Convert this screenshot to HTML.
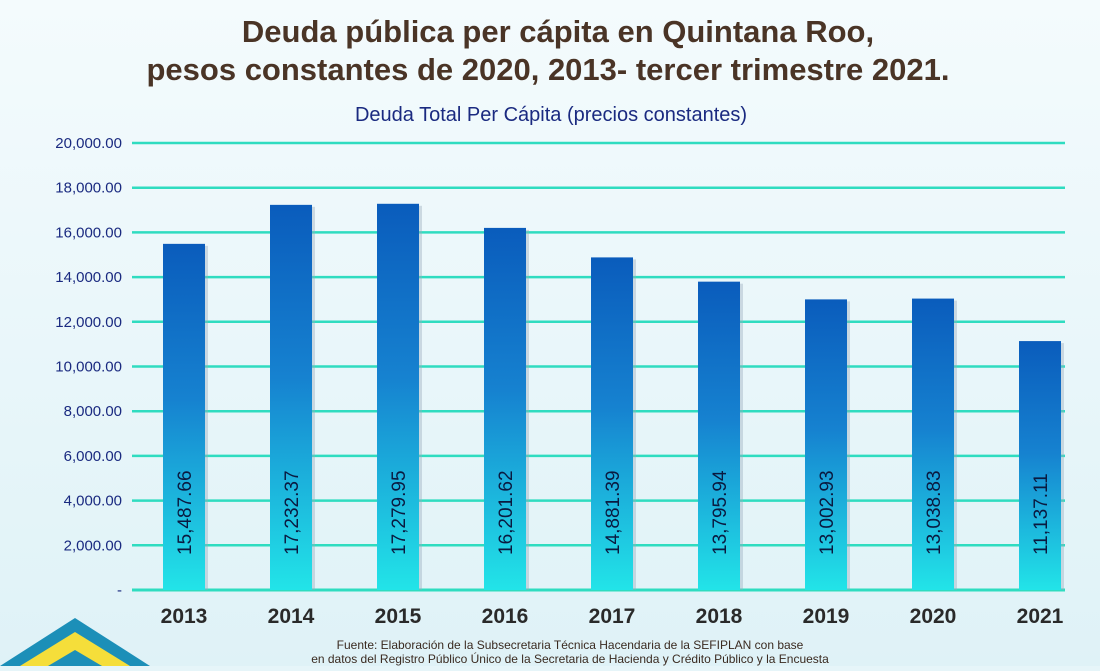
<!DOCTYPE html>
<html><head><meta charset="utf-8">
<style>
body{margin:0;width:1100px;height:666px;overflow:hidden;background:#e6f5f9;font-family:"Liberation Sans",sans-serif;}
</style></head>
<body>
<svg id="chart" width="1100" height="666" xmlns="http://www.w3.org/2000/svg">
<defs>
<linearGradient id="bg" x1="0" y1="0" x2="0" y2="1"><stop offset="0" stop-color="#f4fbfd"/><stop offset="1" stop-color="#dff2f7"/></linearGradient>
<linearGradient id="barg" x1="0" y1="0" x2="0" y2="1"><stop offset="0" stop-color="#0a5cbc"/><stop offset="0.45" stop-color="#1682d0"/><stop offset="1" stop-color="#22e4e8"/></linearGradient>
</defs>
<rect width="1100" height="666" fill="url(#bg)"/>
<polygon points="0,666 75,618 150,666" fill="#1c8fb8"/>
<polygon points="20,666 75,632 130,666" fill="#f5de3a"/>
<polygon points="48,666 75,650 102,666" fill="#1c8fb8"/>
<text x="558" y="42" text-anchor="middle" font-size="31" font-weight="bold" fill="#4a3426">Deuda pública per cápita en Quintana Roo,</text>
<text x="548" y="80" text-anchor="middle" font-size="31" font-weight="bold" fill="#4a3426">pesos constantes de 2020, 2013- tercer trimestre 2021.</text>
<text x="551" y="121" text-anchor="middle" font-size="20" fill="#1a2a80">Deuda Total Per Cápita (precios constantes)</text>
<g id="grid"></g><g id="bars"></g>
<text x="570" y="649" text-anchor="middle" font-size="12" fill="#3a2a20">Fuente: Elaboración de la Subsecretaria Técnica Hacendaria de la SEFIPLAN con base</text>
<text x="570" y="663" text-anchor="middle" font-size="12" fill="#3a2a20">en datos del Registro Público Único de la Secretaria de Hacienda y Crédito Público y la Encuesta</text>
</svg>
<script>
const categories=["2013","2014","2015","2016","2017","2018","2019","2020","2021"];
const values=[15487.66,17232.37,17279.95,16201.62,14881.39,13795.94,13002.93,13038.83,11137.11];
const valueLabels=["15,487.66","17,232.37","17,279.95","16,201.62","14,881.39","13,795.94","13,002.93","13,038.83","11,137.11"];
const ticks=[0,2000,4000,6000,8000,10000,12000,14000,16000,18000,20000];
const tickLabels=["-","2,000.00","4,000.00","6,000.00","8,000.00","10,000.00","12,000.00","14,000.00","16,000.00","18,000.00","20,000.00"];
const NS="http://www.w3.org/2000/svg";
const y=v=>590-v*0.02235;
const x=i=>184+i*107;
function mk(t,a,p){const e=document.createElementNS(NS,t);for(const k in a)e.setAttribute(k,a[k]);p.appendChild(e);return e;}
const g=document.getElementById('grid'),b=document.getElementById('bars');
ticks.forEach((t,i)=>{
 const l=mk('line',{x1:132,x2:1065,y1:y(t),y2:y(t),stroke:'#2fdcc0','stroke-width':i==0?3:2.5},g);
 
 
 const tx=mk('text',{x:122,y:y(t)+5,'text-anchor':'end','font-size':15,fill:'#1a2a80'},g);
 tx.textContent=tickLabels[i];
 
 
});
categories.forEach((c,i)=>{
 const w=42,cx=x(i);
 mk('rect',{x:cx-w/2+3,y:y(values[i])+2,width:w,height:y(0)-y(values[i])-2,fill:'#9ab'},b).setAttribute('opacity','0.4');
 const r=mk('rect',{x:cx-w/2,y:y(values[i]),width:w,height:y(0)-y(values[i]),fill:'url(#barg)'},b);
 
 
 const vt=mk('text',{x:cx+7,y:555,'font-size':19,fill:'#0a1a40',transform:`rotate(-90 ${cx+7} 555)`},b);
 vt.textContent=valueLabels[i];
 
 
 const ct=mk('text',{x:cx,y:623,'text-anchor':'middle','font-size':21,'font-weight':'bold',fill:'#2a2a2a'},b);
 ct.textContent=c;
 
 
});
</script>
</body></html>
